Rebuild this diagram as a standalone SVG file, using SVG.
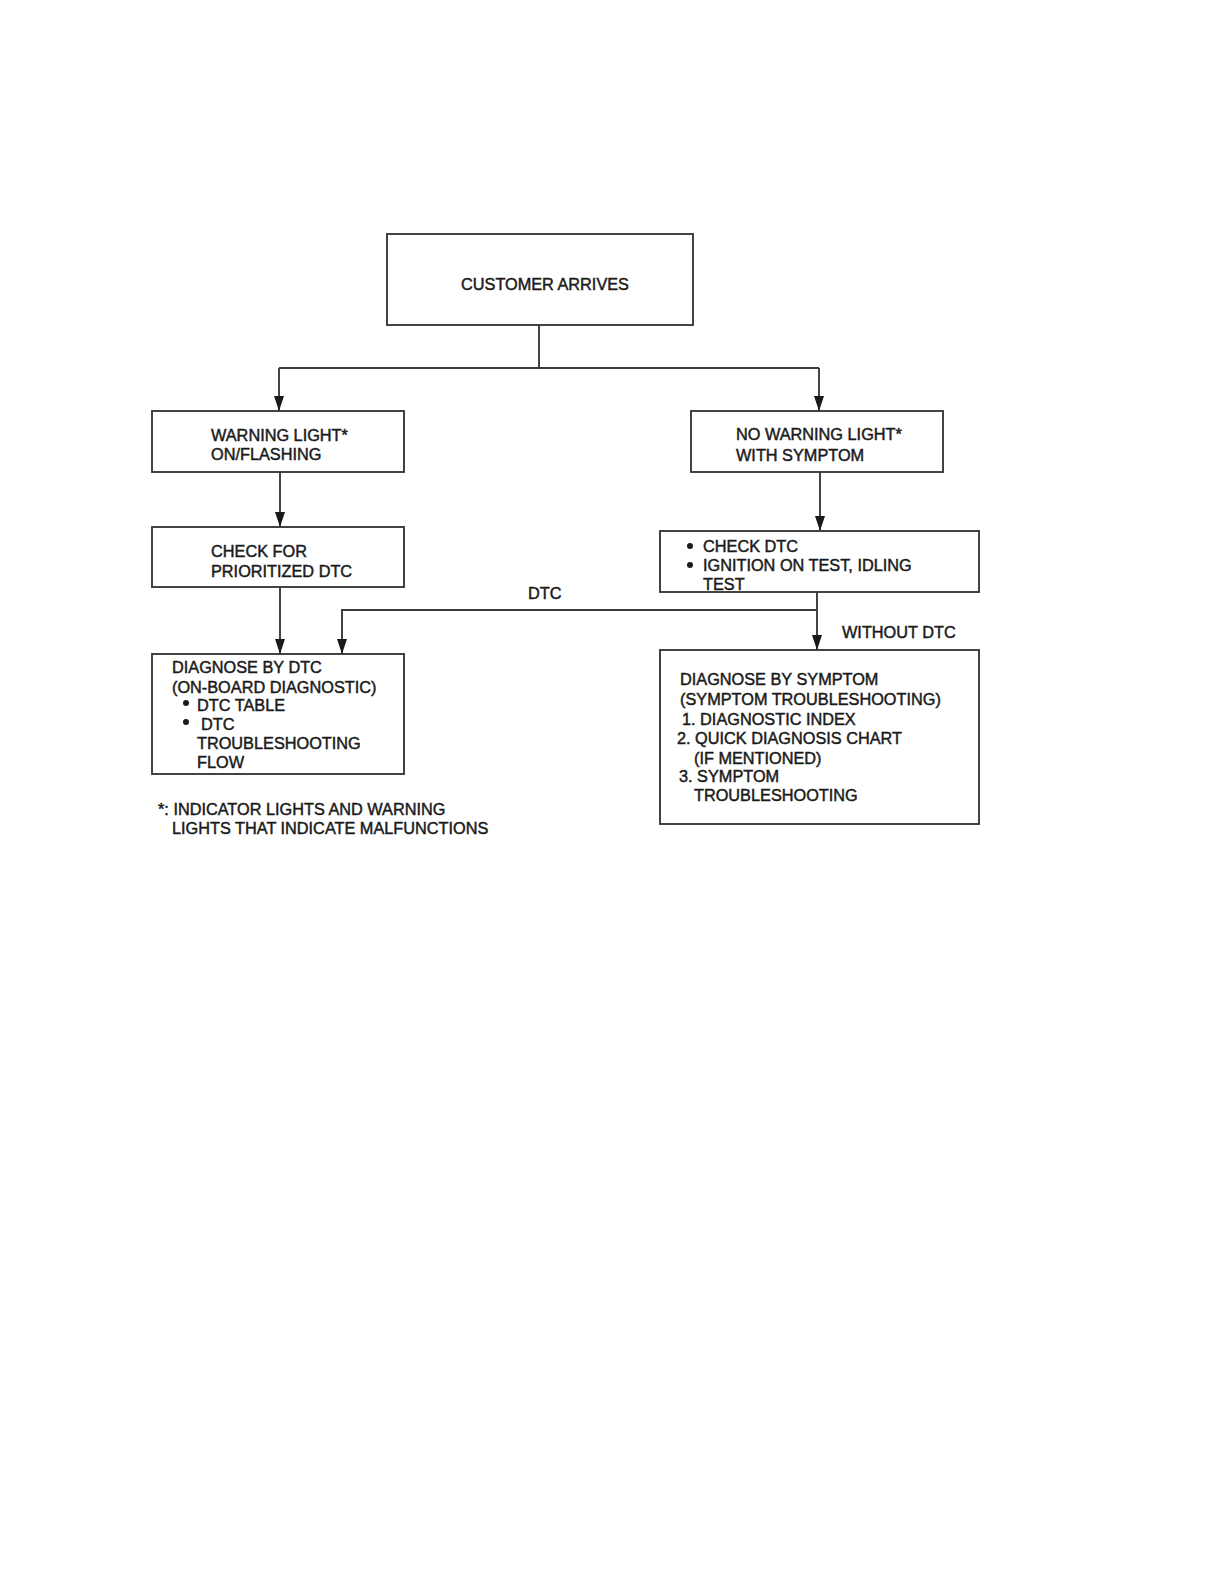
<svg xmlns="http://www.w3.org/2000/svg" width="1225" height="1585" viewBox="0 0 1225 1585">
<defs>
<style>
.box{fill:#fff;stroke:#3a3a3a;stroke-width:1.9}
.ln{fill:none;stroke:#3a3a3a;stroke-width:1.9}
text{font-family:"Liberation Sans",Arial,sans-serif;font-size:16.3px;fill:#1a1a1a;stroke:#1a1a1a;stroke-width:0.45}
.b{fill:#1a1a1a}
</style>
<marker id="ah2" viewBox="0 0 15 10" refX="15" refY="5" markerWidth="15" markerHeight="10" markerUnits="userSpaceOnUse" orient="auto">
<path d="M0,0 L15,5 L0,10 Z" fill="#1a1a1a"/>
</marker>
</defs>
<rect width="1225" height="1585" fill="#fff"/>
<g id="connectors">
<path class="ln" d="M539,325 V368"/>
<path class="ln" d="M279,368 H819"/>
<path class="ln" d="M279,368 V411" marker-end="url(#ah2)"/>
<path class="ln" d="M819,368 V411" marker-end="url(#ah2)"/>
<path class="ln" d="M280,472 V527" marker-end="url(#ah2)"/>
<path class="ln" d="M280,587 V654" marker-end="url(#ah2)"/>
<path class="ln" d="M820,472 V531" marker-end="url(#ah2)"/>
<path class="ln" d="M817,592 V650" marker-end="url(#ah2)"/>
<path class="ln" d="M817,610 H342 V654" marker-end="url(#ah2)"/>
<text x="528" y="599">DTC</text>
<text x="842" y="638">WITHOUT DTC</text>
</g>
<g id="customer">
<rect class="box" x="387" y="234" width="306" height="91"/>
<text x="461" y="290">CUSTOMER ARRIVES</text>
</g>
<g id="warning">
<rect class="box" x="152" y="411" width="252" height="61"/>
<text x="211" y="441">WARNING LIGHT*</text>
<text x="211" y="460">ON/FLASHING</text>
</g>
<g id="checkprio">
<rect class="box" x="152" y="527" width="252" height="60"/>
<text x="211" y="557">CHECK FOR</text>
<text x="211" y="577">PRIORITIZED DTC</text>
</g>
<g id="diagdtc">
<rect class="box" x="152" y="654" width="252" height="120"/>
<text x="172" y="673">DIAGNOSE BY DTC</text>
<text x="172" y="693">(ON-BOARD DIAGNOSTIC)</text>
<circle class="b" cx="186" cy="703" r="3"/>
<text x="197" y="711">DTC TABLE</text>
<circle class="b" cx="186" cy="722" r="3"/>
<text x="201" y="730">DTC</text>
<text x="197" y="749">TROUBLESHOOTING</text>
<text x="197" y="768">FLOW</text>
</g>
<g id="nowarning">
<rect class="box" x="691" y="411" width="252" height="61"/>
<text x="736" y="440">NO WARNING LIGHT*</text>
<text x="736" y="461">WITH SYMPTOM</text>
</g>
<g id="checkdtc">
<rect class="box" x="660" y="531" width="319" height="61"/>
<circle class="b" cx="690" cy="546" r="3"/>
<text x="703" y="552">CHECK DTC</text>
<circle class="b" cx="690" cy="565" r="3"/>
<text x="703" y="571">IGNITION ON TEST, IDLING</text>
<text x="703" y="590">TEST</text>
</g>
<g id="diagsymptom">
<rect class="box" x="660" y="650" width="319" height="174"/>
<text x="680" y="685">DIAGNOSE BY SYMPTOM</text>
<text x="680" y="705">(SYMPTOM TROUBLESHOOTING)</text>
<text x="682" y="725">1. DIAGNOSTIC INDEX</text>
<text x="677" y="744">2. QUICK DIAGNOSIS CHART</text>
<text x="694" y="764">(IF MENTIONED)</text>
<text x="679" y="782">3. SYMPTOM</text>
<text x="694" y="801">TROUBLESHOOTING</text>
</g>
<g id="footnote">
<text x="158" y="815">*: INDICATOR LIGHTS AND WARNING</text>
<text x="172" y="834">LIGHTS THAT INDICATE MALFUNCTIONS</text>
</g>
</svg>
